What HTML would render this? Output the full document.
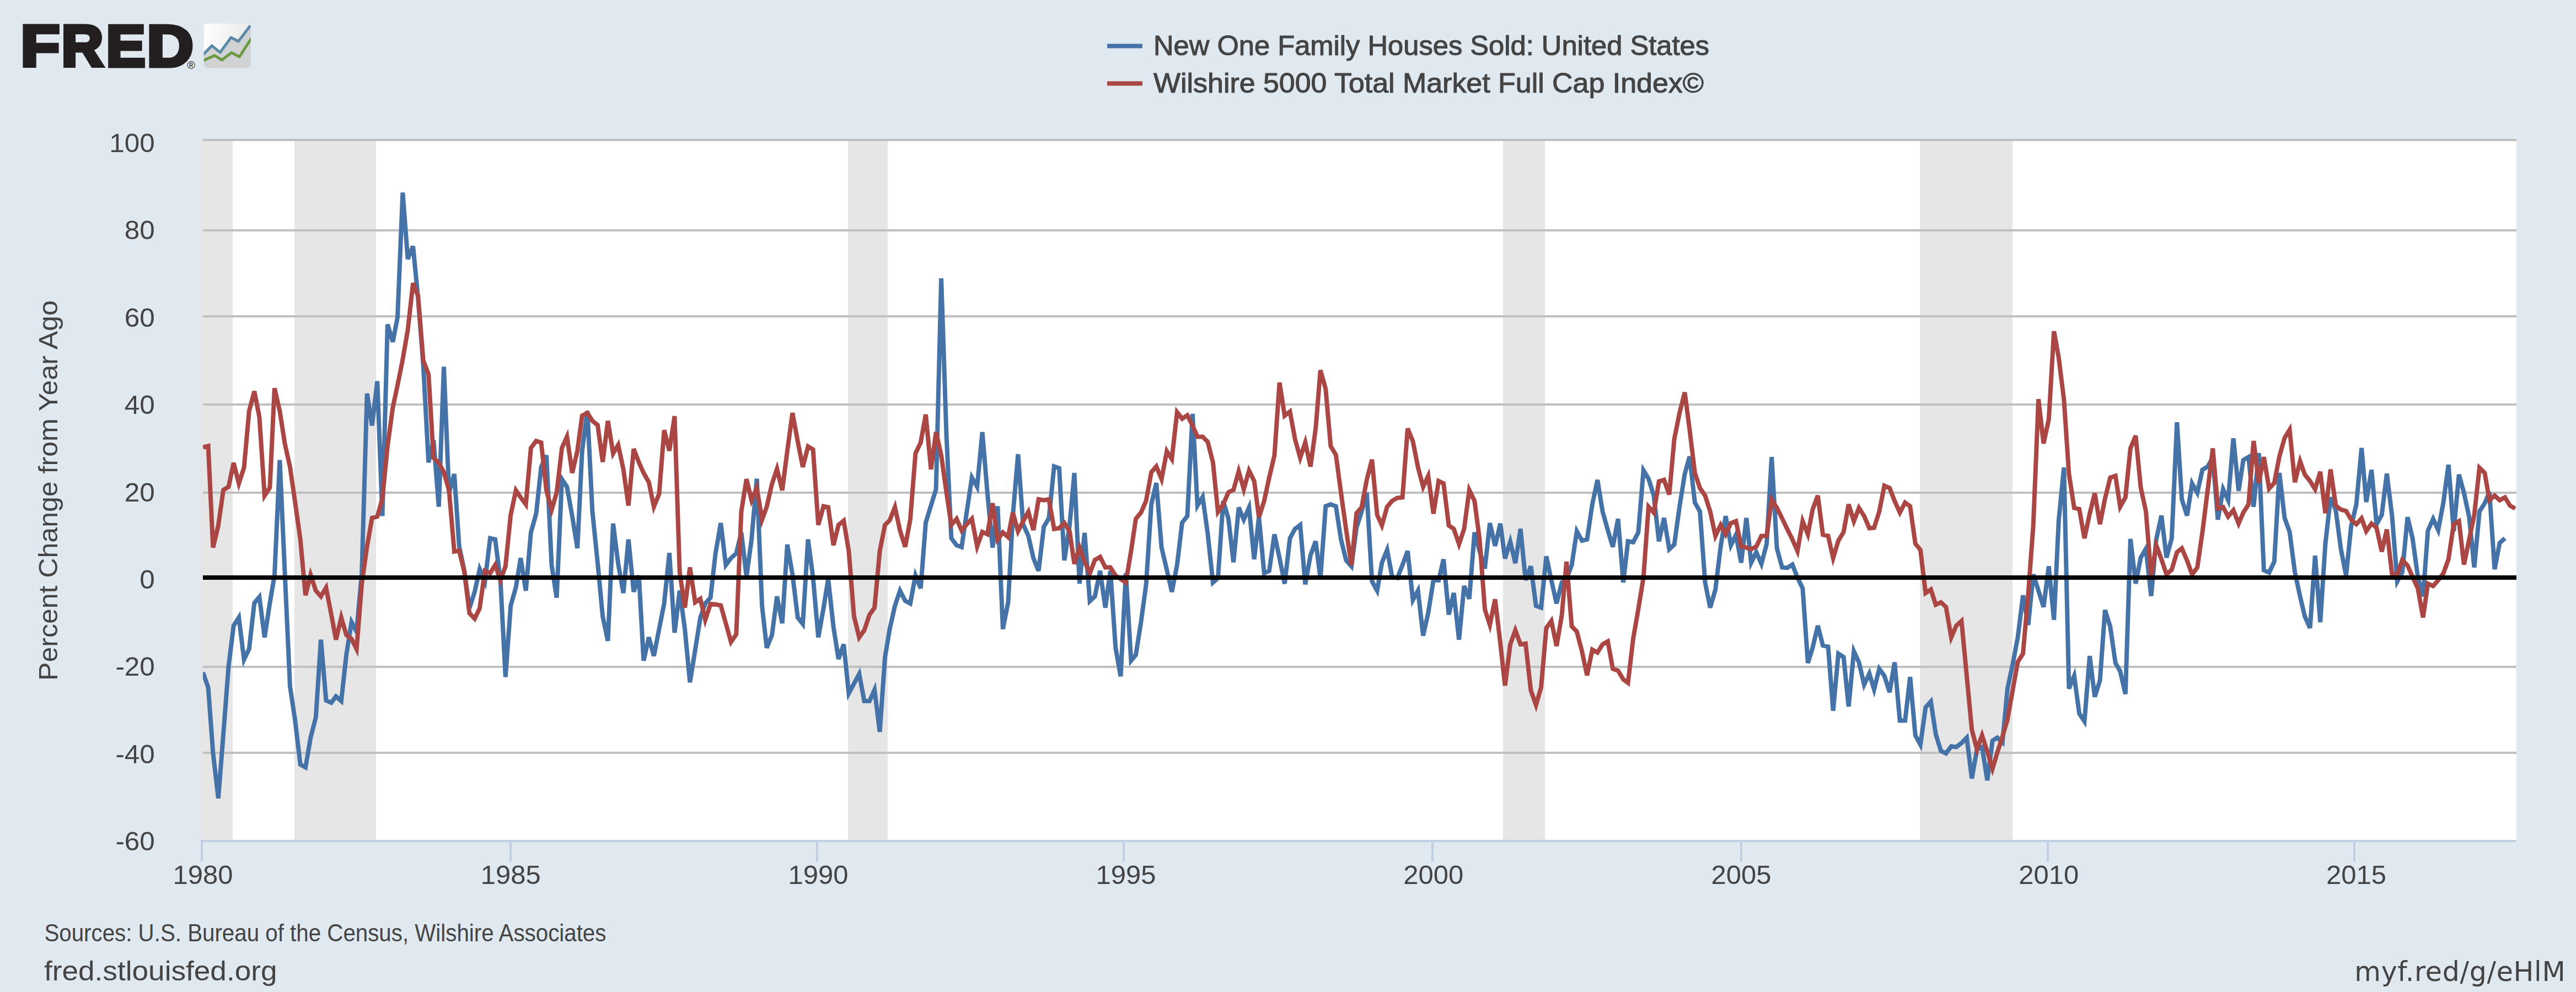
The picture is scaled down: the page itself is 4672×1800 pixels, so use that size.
<!DOCTYPE html>
<html><head><meta charset="utf-8"><title>FRED Graph</title>
<style>
html,body{margin:0;padding:0;background:#e1e9f0;}
svg{display:block}
text{font-family:"Liberation Sans",sans-serif;fill:#444444}
.dj{font-family:"DejaVu Sans","Liberation Sans",sans-serif}
</style></head>
<body>
<svg width="4672" height="1800" viewBox="0 0 4672 1800">
<rect x="0" y="0" width="4672" height="1800" fill="#e1e9f0"/>
<rect x="366" y="254" width="4198" height="1272" fill="#ffffff"/>
<rect x="366.0" y="254" width="56.0" height="1272" fill="#e6e6e6"/>
<rect x="534.0" y="254" width="148.0" height="1272" fill="#e6e6e6"/>
<rect x="1538.0" y="254" width="72.0" height="1272" fill="#e6e6e6"/>
<rect x="2726.0" y="254" width="76.0" height="1272" fill="#e6e6e6"/>
<rect x="3482.0" y="254" width="168.0" height="1272" fill="#e6e6e6"/>
<rect x="368" y="252" width="4196" height="4" fill="#c0c0c0"/>
<rect x="368" y="416" width="4196" height="4" fill="#c0c0c0"/>
<rect x="368" y="572" width="4196" height="4" fill="#c0c0c0"/>
<rect x="368" y="732" width="4196" height="4" fill="#c0c0c0"/>
<rect x="368" y="892" width="4196" height="4" fill="#c0c0c0"/>
<rect x="368" y="1208" width="4196" height="4" fill="#c0c0c0"/>
<rect x="368" y="1364" width="4196" height="4" fill="#c0c0c0"/>
<svg x="368" y="254" width="4196" height="1272" viewBox="368 254 4196 1272" overflow="hidden">
<path d="M368.1 1220.0 L377.6 1247.5 L386.4 1366.1 L395.9 1448.6 L405.1 1332.2 L414.5 1209.4 L423.7 1135.3 L433.2 1120.5 L442.6 1196.7 L451.8 1177.6 L461.3 1094.2 L470.4 1083.2 L479.9 1156.5 L489.4 1094.2 L497.9 1044.2 L507.4 834.8 L516.6 1040.0 L526.0 1245.4 L535.2 1306.8 L544.7 1387.2 L554.1 1392.3 L563.3 1338.5 L572.8 1301.7 L582.0 1160.7 L591.4 1270.8 L600.9 1275.0 L609.4 1263.6 L618.9 1272.1 L628.1 1188.2 L637.6 1128.9 L646.7 1145.9 L656.2 1040.0 L665.7 714.1 L674.8 772.1 L684.3 691.7 L693.5 936.4 L702.9 588.6 L712.4 620.4 L721.0 575.9 L730.4 349.5 L739.6 470.1 L749.1 446.8 L758.2 540.8 L767.7 662.7 L777.2 839.0 L786.3 798.8 L795.8 919.5 L805.0 665.4 L814.4 894.1 L823.9 860.2 L832.8 991.5 L842.2 1035.9 L851.4 1103.5 L860.9 1073.9 L870.0 1032.6 L879.5 1054.8 L889.0 976.7 L898.1 978.8 L907.6 1052.7 L916.8 1228.4 L926.2 1099.3 L935.7 1065.4 L944.3 1012.6 L953.7 1071.8 L962.9 966.1 L972.4 932.2 L981.5 847.5 L991.0 826.3 L1000.5 1025.3 L1009.6 1084.5 L1019.1 869.4 L1028.3 883.5 L1037.8 936.4 L1047.2 994.9 L1055.8 817.9 L1065.3 745.9 L1074.4 928.0 L1083.9 1021.1 L1093.1 1118.3 L1102.5 1162.8 L1112.0 950.0 L1121.2 1023.2 L1130.6 1076.0 L1139.8 978.8 L1149.3 1073.9 L1158.7 1044.2 L1167.3 1198.8 L1176.8 1156.5 L1185.9 1190.3 L1195.4 1141.6 L1204.6 1095.0 L1214.0 1003.3 L1223.5 1148.0 L1232.7 1071.8 L1242.1 1141.6 L1251.3 1238.2 L1260.8 1179.7 L1270.2 1120.5 L1279.1 1095.0 L1288.6 1084.5 L1297.7 1004.2 L1307.2 949.1 L1316.4 1025.3 L1325.8 1012.6 L1335.3 1004.2 L1344.5 966.1 L1353.9 1046.0 L1363.1 978.8 L1372.6 868.7 L1382.1 1099.3 L1390.6 1175.5 L1400.1 1152.2 L1409.2 1082.3 L1418.7 1131.0 L1427.9 988.1 L1437.3 1042.3 L1446.8 1120.5 L1456.0 1132.3 L1465.5 978.8 L1474.6 1048.0 L1484.1 1156.5 L1493.6 1103.5 L1502.1 1050.6 L1511.6 1137.4 L1520.8 1195.8 L1530.2 1169.2 L1539.4 1258.1 L1548.9 1240.3 L1558.3 1222.9 L1567.5 1272.1 L1577.0 1272.1 L1586.1 1251.7 L1595.6 1328.0 L1605.1 1192.4 L1613.6 1141.6 L1623.1 1099.3 L1632.3 1071.8 L1641.7 1090.0 L1650.9 1095.0 L1660.4 1044.2 L1669.8 1067.5 L1679.0 948.3 L1688.5 917.4 L1697.6 887.7 L1707.1 505.1 L1716.6 791.8 L1725.4 976.7 L1734.9 989.4 L1744.1 992.7 L1753.5 928.0 L1762.7 866.6 L1772.2 883.5 L1781.6 784.0 L1790.8 894.1 L1800.3 993.6 L1809.4 918.6 L1818.9 1141.6 L1828.4 1092.9 L1836.9 936.4 L1846.4 824.2 L1855.6 951.2 L1865.1 972.4 L1874.2 1012.6 L1883.7 1035.9 L1893.2 955.5 L1902.3 940.7 L1911.8 846.2 L1921.0 849.6 L1930.4 1016.9 L1939.9 953.4 L1948.5 858.1 L1957.9 1059.1 L1967.1 966.9 L1976.6 1090.8 L1985.7 1082.3 L1995.2 1035.9 L2004.7 1102.7 L2013.8 1035.9 L2023.3 1175.5 L2032.5 1227.2 L2041.9 1040.2 L2051.4 1198.8 L2060.0 1188.2 L2069.4 1128.9 L2078.6 1061.2 L2088.1 915.2 L2097.2 876.3 L2106.7 993.6 L2116.2 1033.8 L2125.3 1073.9 L2134.8 1025.3 L2144.0 948.3 L2153.4 936.4 L2162.9 750.9 L2171.8 917.4 L2181.2 901.7 L2190.4 968.2 L2199.9 1056.9 L2209.0 1048.6 L2218.5 908.9 L2228.0 941.5 L2237.1 1020.3 L2246.6 920.9 L2255.8 942.8 L2265.3 920.9 L2274.7 1014.8 L2283.3 938.5 L2292.8 1040.2 L2301.9 1035.9 L2311.4 969.5 L2320.6 1012.6 L2330.0 1059.1 L2339.5 976.7 L2348.7 959.7 L2358.1 952.5 L2367.3 1060.3 L2376.8 1007.6 L2386.2 982.2 L2394.8 1049.3 L2404.3 918.6 L2413.4 915.2 L2422.9 918.6 L2432.1 978.8 L2441.5 1016.9 L2451.0 1027.5 L2460.2 957.6 L2469.6 928.0 L2478.8 894.1 L2488.3 1054.8 L2497.7 1071.8 L2506.3 1021.1 L2515.8 997.8 L2524.9 1046.5 L2534.4 1048.6 L2543.6 1025.3 L2553.0 999.9 L2562.5 1088.7 L2571.7 1071.8 L2581.1 1153.5 L2590.3 1112.0 L2599.8 1052.7 L2609.2 1052.9 L2618.1 1014.8 L2627.6 1115.4 L2636.7 1076.0 L2646.2 1160.7 L2655.4 1063.3 L2664.8 1086.6 L2674.3 966.1 L2683.5 999.9 L2693.0 1031.7 L2702.1 949.1 L2711.6 990.6 L2721.1 950.0 L2729.6 1013.5 L2739.1 983.0 L2748.3 1022.0 L2757.7 959.7 L2766.9 1052.7 L2776.4 1027.5 L2785.8 1099.3 L2795.0 1102.7 L2804.5 1009.3 L2813.6 1052.7 L2823.1 1095.0 L2832.6 1056.9 L2841.1 1050.6 L2850.6 1025.3 L2859.8 963.9 L2869.2 980.9 L2878.4 978.8 L2887.9 915.2 L2897.3 870.8 L2906.5 928.0 L2916.0 961.8 L2925.1 992.3 L2934.6 941.5 L2944.1 1056.9 L2952.6 982.2 L2962.1 983.8 L2971.3 966.1 L2980.7 853.6 L2989.9 868.7 L2999.4 899.2 L3008.8 982.2 L3018.0 939.8 L3027.5 996.6 L3036.6 988.1 L3046.1 919.5 L3055.6 860.2 L3064.4 828.4 L3073.9 911.9 L3083.1 928.0 L3092.5 1056.9 L3101.7 1102.7 L3111.2 1069.6 L3120.7 991.5 L3129.8 936.4 L3139.3 989.4 L3148.5 970.3 L3157.9 1021.1 L3167.4 939.8 L3176.0 1021.1 L3185.4 1002.1 L3194.6 1023.2 L3204.1 987.2 L3213.2 829.3 L3222.7 994.9 L3232.2 1029.6 L3241.3 1030.4 L3250.8 1024.5 L3260.0 1048.0 L3269.4 1067.5 L3278.9 1203.0 L3287.5 1175.5 L3296.9 1135.3 L3306.1 1171.3 L3315.6 1173.4 L3324.7 1289.8 L3334.2 1186.1 L3343.7 1192.4 L3352.8 1282.2 L3362.3 1181.9 L3371.5 1201.8 L3380.9 1242.4 L3390.4 1222.1 L3399.0 1250.9 L3408.4 1213.6 L3417.6 1226.3 L3427.1 1256.0 L3436.2 1201.8 L3445.7 1307.6 L3455.2 1307.6 L3464.3 1228.4 L3473.8 1334.3 L3483.0 1351.2 L3492.4 1283.5 L3501.9 1272.9 L3510.8 1332.2 L3520.2 1362.7 L3529.4 1366.9 L3538.9 1354.2 L3548.0 1355.5 L3557.5 1348.3 L3567.0 1338.5 L3576.2 1412.6 L3585.6 1359.7 L3594.8 1355.5 L3604.3 1416.0 L3613.7 1344.0 L3622.3 1338.5 L3631.8 1347.0 L3640.9 1249.6 L3650.4 1205.1 L3659.6 1156.5 L3669.0 1080.2 L3678.5 1134.0 L3687.7 1042.3 L3697.1 1071.8 L3706.3 1101.4 L3715.8 1027.5 L3725.2 1124.7 L3733.8 944.9 L3743.3 848.3 L3752.4 1249.6 L3761.9 1226.3 L3771.1 1294.9 L3780.5 1308.9 L3790.0 1190.3 L3799.2 1264.4 L3808.6 1234.8 L3817.8 1106.9 L3827.3 1137.4 L3836.7 1203.0 L3845.3 1217.9 L3854.8 1259.4 L3863.9 977.9 L3873.4 1059.1 L3882.6 1011.8 L3892.0 995.7 L3901.5 1081.5 L3910.7 978.8 L3920.1 935.6 L3929.3 1011.8 L3938.8 976.7 L3948.3 766.2 L3957.1 905.9 L3966.6 935.6 L3975.7 877.1 L3985.2 894.1 L3994.4 852.6 L4003.9 846.6 L4013.3 830.6 L4022.5 942.8 L4032.0 887.7 L4041.1 907.6 L4050.6 795.4 L4060.1 890.7 L4068.6 834.8 L4078.1 829.3 L4087.3 919.5 L4096.7 822.1 L4105.9 1034.7 L4115.4 1038.9 L4124.8 1019.0 L4134.0 858.1 L4143.5 939.8 L4152.6 965.2 L4162.1 1038.1 L4171.6 1082.3 L4180.1 1118.3 L4189.6 1139.5 L4198.8 1008.4 L4208.2 1128.9 L4217.4 987.2 L4226.9 902.5 L4236.3 925.8 L4245.5 995.7 L4255.0 1044.4 L4264.1 955.5 L4273.6 915.2 L4283.1 812.8 L4291.6 911.0 L4301.1 852.6 L4310.3 951.2 L4319.7 934.3 L4328.9 859.4 L4338.4 936.4 L4347.8 1055.0 L4357.0 1038.1 L4366.5 938.5 L4375.6 976.7 L4385.1 1046.5 L4394.6 1082.3 L4403.4 962.7 L4412.9 941.5 L4422.1 961.8 L4431.6 911.0 L4440.7 843.3 L4450.2 963.9 L4459.7 861.0 L4468.8 894.1 L4478.3 938.5 L4487.5 1029.6 L4496.9 928.0 L4506.4 913.1 L4515.0 893.2 L4524.4 1033.0 L4533.6 985.1 L4543.1 976.7" fill="none" stroke="#4572a7" stroke-width="8" stroke-linejoin="miter" stroke-linecap="butt"/>
<path d="M368.1 811.5 L377.6 809.2 L386.4 993.6 L395.9 953.4 L405.1 889.0 L414.5 883.5 L423.7 839.9 L433.2 877.3 L442.6 848.3 L451.8 745.9 L461.3 709.9 L470.4 756.5 L479.9 899.5 L489.4 884.8 L497.9 704.4 L507.4 745.9 L516.6 805.1 L526.0 847.5 L535.2 911.0 L544.7 978.8 L554.1 1080.2 L563.3 1042.9 L572.8 1071.8 L582.0 1082.3 L591.4 1066.3 L600.9 1115.4 L609.4 1160.7 L618.9 1120.5 L628.1 1152.2 L637.6 1159.4 L646.7 1177.6 L656.2 1059.2 L665.7 991.5 L674.8 939.8 L684.3 937.3 L693.5 904.7 L702.9 809.4 L712.4 739.5 L721.0 699.1 L730.4 652.1 L739.6 598.6 L749.1 513.8 L758.2 536.8 L767.7 654.2 L777.2 679.0 L786.3 830.6 L795.8 839.9 L805.0 856.8 L814.4 889.8 L823.9 1000.8 L832.8 999.1 L842.2 1038.1 L851.4 1112.8 L860.9 1122.6 L870.0 1103.5 L879.5 1035.9 L889.0 1040.2 L898.1 1025.3 L907.6 1052.9 L916.8 1027.5 L926.2 934.3 L935.7 889.8 L944.3 902.5 L953.7 915.2 L962.9 812.8 L972.4 800.1 L981.5 803.0 L991.0 889.8 L1000.5 924.6 L1009.6 894.1 L1019.1 812.8 L1028.3 792.4 L1037.8 858.1 L1047.2 817.9 L1055.8 754.3 L1065.3 749.3 L1074.4 763.7 L1083.9 771.3 L1093.1 838.2 L1102.5 763.7 L1112.0 822.9 L1121.2 807.3 L1130.6 851.7 L1139.8 917.4 L1149.3 814.5 L1158.7 839.0 L1167.3 858.1 L1176.8 875.0 L1185.9 919.5 L1195.4 896.2 L1204.6 780.6 L1214.0 817.9 L1223.5 755.2 L1232.7 1038.1 L1242.1 1102.7 L1251.3 1029.6 L1260.8 1092.9 L1270.2 1086.6 L1279.1 1124.7 L1288.6 1095.9 L1297.7 1096.7 L1307.2 1098.4 L1316.4 1131.0 L1325.8 1164.9 L1335.3 1150.9 L1344.5 928.0 L1353.9 869.5 L1363.1 907.6 L1372.6 885.3 L1382.1 942.8 L1390.6 919.5 L1400.1 878.0 L1409.2 850.9 L1418.7 889.8 L1427.9 817.9 L1437.3 749.3 L1446.8 800.9 L1456.0 847.5 L1465.5 810.2 L1474.6 815.7 L1484.1 952.5 L1493.6 918.6 L1502.1 920.3 L1511.6 989.4 L1520.8 952.5 L1530.2 944.9 L1539.4 999.9 L1548.9 1118.3 L1558.3 1156.5 L1567.5 1143.7 L1577.0 1115.4 L1586.1 1102.7 L1595.6 999.9 L1605.1 952.5 L1613.6 944.0 L1623.1 920.1 L1632.3 962.7 L1641.7 992.3 L1650.9 942.8 L1660.4 822.9 L1669.8 803.0 L1679.0 752.2 L1688.5 851.7 L1697.6 784.0 L1707.1 826.3 L1716.6 894.1 L1725.4 952.5 L1734.9 941.5 L1744.1 962.7 L1753.5 951.2 L1762.7 941.5 L1772.2 991.5 L1781.6 965.2 L1790.8 969.5 L1800.3 913.1 L1809.4 978.8 L1818.9 966.1 L1828.4 974.5 L1836.9 930.1 L1846.4 963.9 L1855.6 945.7 L1865.1 928.8 L1874.2 961.8 L1883.7 905.9 L1893.2 907.6 L1902.3 905.9 L1911.8 959.7 L1921.0 958.4 L1930.4 949.1 L1939.9 963.9 L1948.5 1023.2 L1957.9 993.6 L1967.1 1019.0 L1976.6 1040.2 L1985.7 1016.0 L1995.2 1010.5 L2004.7 1029.6 L2013.8 1029.6 L2023.3 1044.4 L2032.5 1050.8 L2041.9 1056.9 L2051.4 999.9 L2060.0 941.5 L2069.4 930.1 L2078.6 908.9 L2088.1 856.8 L2097.2 846.2 L2106.7 869.4 L2116.2 818.7 L2125.3 833.0 L2134.8 748.0 L2144.0 759.8 L2153.4 753.5 L2162.9 772.1 L2171.8 792.4 L2181.2 792.4 L2190.4 801.8 L2199.9 839.0 L2209.0 928.8 L2218.5 915.2 L2228.0 893.2 L2237.1 889.0 L2246.6 855.2 L2255.8 887.7 L2265.3 853.8 L2274.7 872.9 L2283.3 938.5 L2292.8 908.9 L2301.9 866.6 L2311.4 826.3 L2320.6 694.2 L2330.0 754.3 L2339.5 746.7 L2348.7 796.7 L2358.1 830.6 L2367.3 802.9 L2376.8 846.6 L2386.2 777.6 L2394.8 671.8 L2404.3 705.6 L2413.4 809.4 L2422.9 825.5 L2432.1 894.1 L2441.5 961.8 L2451.0 1025.3 L2460.2 931.3 L2469.6 920.3 L2478.8 870.8 L2488.3 833.9 L2497.7 934.3 L2506.3 953.4 L2515.8 919.5 L2524.9 908.9 L2534.4 903.4 L2543.6 902.5 L2553.0 777.6 L2562.5 800.9 L2571.7 847.5 L2581.1 883.5 L2590.3 863.6 L2599.8 932.2 L2609.2 872.9 L2618.1 877.1 L2627.6 953.4 L2636.7 959.7 L2646.2 987.2 L2655.4 959.7 L2664.8 889.2 L2674.3 908.9 L2683.5 978.8 L2693.0 1105.6 L2702.1 1134.0 L2711.6 1087.4 L2721.1 1167.0 L2729.6 1244.1 L2739.1 1169.2 L2748.3 1143.7 L2757.7 1169.2 L2766.9 1167.9 L2776.4 1252.6 L2785.8 1279.3 L2795.0 1247.5 L2804.5 1139.5 L2813.6 1126.8 L2823.1 1172.1 L2832.6 1116.2 L2841.1 1019.0 L2850.6 1136.5 L2859.8 1145.9 L2869.2 1181.9 L2878.4 1225.5 L2887.9 1178.9 L2897.3 1184.0 L2906.5 1169.2 L2916.0 1163.7 L2925.1 1213.6 L2934.6 1217.0 L2944.1 1232.7 L2952.6 1239.0 L2962.1 1158.6 L2971.3 1105.6 L2980.7 1048.0 L2989.9 919.5 L2999.4 930.1 L3008.8 873.7 L3018.0 870.8 L3027.5 897.5 L3036.6 796.7 L3046.1 749.3 L3055.6 712.0 L3064.4 779.7 L3073.9 858.1 L3083.1 885.6 L3092.5 899.2 L3101.7 928.0 L3111.2 972.4 L3120.7 952.5 L3129.8 969.5 L3139.3 949.1 L3148.5 945.7 L3157.9 991.5 L3167.4 993.6 L3176.0 996.6 L3185.4 991.5 L3194.6 972.4 L3204.1 972.4 L3213.2 906.8 L3222.7 921.6 L3232.2 940.7 L3241.3 959.7 L3250.8 978.8 L3260.0 999.9 L3269.4 945.7 L3278.9 969.5 L3287.5 924.6 L3296.9 899.2 L3306.1 970.3 L3315.6 972.4 L3324.7 1012.6 L3334.2 980.9 L3343.7 965.2 L3352.8 915.2 L3362.3 945.7 L3371.5 921.6 L3380.9 936.4 L3390.4 958.4 L3399.0 957.6 L3408.4 928.0 L3417.6 881.4 L3427.1 885.6 L3436.2 908.9 L3445.7 930.1 L3455.2 911.9 L3464.3 918.6 L3473.8 986.4 L3483.0 997.8 L3492.4 1076.0 L3501.9 1069.6 L3510.8 1097.2 L3520.2 1092.9 L3529.4 1101.4 L3538.9 1156.5 L3548.0 1135.3 L3557.5 1126.8 L3567.0 1226.3 L3576.2 1323.7 L3585.6 1359.7 L3594.8 1334.3 L3604.3 1363.9 L3613.7 1394.9 L3622.3 1366.1 L3631.8 1336.4 L3640.9 1305.9 L3650.4 1251.7 L3659.6 1200.9 L3669.0 1186.1 L3678.5 1078.1 L3687.7 953.4 L3697.1 724.2 L3706.3 804.7 L3715.8 761.1 L3725.2 601.1 L3733.8 648.9 L3743.3 725.1 L3752.4 860.2 L3761.9 921.6 L3771.1 923.7 L3780.5 976.7 L3790.0 932.2 L3799.2 894.9 L3808.6 951.2 L3817.8 904.7 L3827.3 866.6 L3836.7 863.6 L3845.3 919.5 L3854.8 902.5 L3863.9 813.6 L3873.4 790.7 L3882.6 884.8 L3892.0 928.0 L3901.5 1046.0 L3910.7 989.4 L3920.1 1014.8 L3929.3 1042.3 L3938.8 1033.8 L3948.3 1002.1 L3957.1 994.9 L3966.6 1016.9 L3975.7 1042.3 L3985.2 1029.6 L3994.4 966.1 L4003.9 889.8 L4013.3 813.6 L4022.5 922.9 L4032.0 920.3 L4041.1 937.3 L4050.6 925.8 L4060.1 950.0 L4068.6 930.1 L4078.1 915.2 L4087.3 800.1 L4096.7 876.3 L4105.9 829.3 L4115.4 886.5 L4124.8 876.3 L4134.0 828.4 L4143.5 794.6 L4152.6 779.7 L4162.1 875.0 L4171.6 836.9 L4180.1 861.0 L4189.6 872.9 L4198.8 887.7 L4208.2 856.0 L4217.4 931.3 L4226.9 851.7 L4236.3 917.4 L4245.5 924.6 L4255.0 927.1 L4264.1 942.8 L4273.6 951.2 L4283.1 940.7 L4291.6 963.9 L4301.1 950.0 L4310.3 957.6 L4319.7 1000.8 L4328.9 960.6 L4338.4 1042.3 L4347.8 1042.3 L4357.0 1016.0 L4366.5 1026.2 L4375.6 1046.5 L4385.1 1067.5 L4394.6 1120.5 L4403.4 1059.1 L4412.9 1063.3 L4422.1 1052.7 L4431.6 1040.2 L4440.7 1014.8 L4450.2 951.2 L4459.7 945.7 L4468.8 1024.5 L4478.3 978.8 L4487.5 934.3 L4496.9 848.8 L4506.4 858.1 L4515.0 907.6 L4524.4 899.2 L4533.6 907.6 L4543.1 902.5 L4552.2 917.4 L4561.7 922.9" fill="none" stroke="#aa4643" stroke-width="8" stroke-linejoin="miter" stroke-linecap="butt"/>
<rect x="368" y="1044" width="4196" height="8" fill="#000000"/>
</svg>
<rect x="364" y="1524" width="4200" height="4" fill="#c0d0e0"/>
<rect x="364" y="1524" width="4" height="40" fill="#c0d0e0"/>
<text x="313.6" y="1604" font-size="48" textLength="109" lengthAdjust="spacingAndGlyphs">1980</text>
<rect x="924" y="1524" width="4" height="40" fill="#c0d0e0"/>
<text x="871.7" y="1604" font-size="48" textLength="109" lengthAdjust="spacingAndGlyphs">1985</text>
<rect x="1480" y="1524" width="4" height="40" fill="#c0d0e0"/>
<text x="1429.6" y="1604" font-size="48" textLength="109" lengthAdjust="spacingAndGlyphs">1990</text>
<rect x="2036" y="1524" width="4" height="40" fill="#c0d0e0"/>
<text x="1987.4" y="1604" font-size="48" textLength="109" lengthAdjust="spacingAndGlyphs">1995</text>
<rect x="2596" y="1524" width="4" height="40" fill="#c0d0e0"/>
<text x="2545.3" y="1604" font-size="48" textLength="109" lengthAdjust="spacingAndGlyphs">2000</text>
<rect x="3156" y="1524" width="4" height="40" fill="#c0d0e0"/>
<text x="3103.4" y="1604" font-size="48" textLength="109" lengthAdjust="spacingAndGlyphs">2005</text>
<rect x="3712" y="1524" width="4" height="40" fill="#c0d0e0"/>
<text x="3661.3" y="1604" font-size="48" textLength="109" lengthAdjust="spacingAndGlyphs">2010</text>
<rect x="4268" y="1524" width="4" height="40" fill="#c0d0e0"/>
<text x="4219.1" y="1604" font-size="48" textLength="109" lengthAdjust="spacingAndGlyphs">2015</text>
<text x="198.3" y="275.8" font-size="48" textLength="82.5" lengthAdjust="spacingAndGlyphs">100</text>
<text x="225.8" y="434.2" font-size="48" textLength="55.0" lengthAdjust="spacingAndGlyphs">80</text>
<text x="225.8" y="592.7" font-size="48" textLength="55.0" lengthAdjust="spacingAndGlyphs">60</text>
<text x="225.8" y="751.1" font-size="48" textLength="55.0" lengthAdjust="spacingAndGlyphs">40</text>
<text x="225.8" y="909.6" font-size="48" textLength="55.0" lengthAdjust="spacingAndGlyphs">20</text>
<text x="253.3" y="1068.0" font-size="48" textLength="27.5" lengthAdjust="spacingAndGlyphs">0</text>
<text x="209.4" y="1226.4" font-size="48" textLength="71.4" lengthAdjust="spacingAndGlyphs">-20</text>
<text x="209.4" y="1384.9" font-size="48" textLength="71.4" lengthAdjust="spacingAndGlyphs">-40</text>
<text x="209.4" y="1543.3" font-size="48" textLength="71.4" lengthAdjust="spacingAndGlyphs">-60</text>
<text transform="translate(104.2,890) rotate(-90)" font-size="48" text-anchor="middle" textLength="690" lengthAdjust="spacingAndGlyphs">Percent Change from Year Ago</text>
<rect x="2008" y="79.5" width="64" height="8" fill="#4572a7"/>
<rect x="2008" y="147.5" width="64" height="8" fill="#aa4643"/>
<text x="2092" y="99.7" font-size="50.5" stroke="#444444" stroke-width="1.1" textLength="1008" lengthAdjust="spacingAndGlyphs">New One Family Houses Sold: United States</text>
<text x="2092" y="167.7" font-size="50.5" stroke="#444444" stroke-width="1.1" textLength="998" lengthAdjust="spacingAndGlyphs">Wilshire 5000 Total Market Full Cap Index©</text>
<text x="80.4" y="1708" font-size="44" textLength="1019" lengthAdjust="spacingAndGlyphs">Sources: U.S. Bureau of the Census, Wilshire Associates</text>
<text x="80" y="1779" font-size="50" textLength="422.5" lengthAdjust="spacingAndGlyphs">fred.stlouisfed.org</text>
<text class="dj" x="4270.2" y="1779.8" font-size="49" textLength="382.5" lengthAdjust="spacing">myf.red/g/eHlM</text>
<text aria-label="FRED" y="119.6" font-size="105.8" font-weight="bold" stroke="#231f20" stroke-width="7" stroke-linejoin="miter" style="fill:#231f20"><tspan x="37.6" textLength="70.8" lengthAdjust="spacingAndGlyphs">F</tspan><tspan x="111.6" textLength="75.8" lengthAdjust="spacingAndGlyphs">R</tspan><tspan x="192.5" textLength="71.1" lengthAdjust="spacingAndGlyphs">E</tspan><tspan x="266.5" textLength="84" lengthAdjust="spacingAndGlyphs">D</tspan></text>
<text x="346.6" y="124.6" font-size="20" text-anchor="middle" style="fill:#231f20">®</text>
<defs><linearGradient id="lg" x1="0" y1="0" x2="1" y2="0.25"><stop offset="0" stop-color="#ffffff"/><stop offset="1" stop-color="#e8e9e9"/></linearGradient>
<clipPath id="lc"><rect x="369.7" y="42.7" width="85" height="80.5" rx="6.5" ry="6.5"/></clipPath></defs>
<g clip-path="url(#lc)">
<rect x="369.7" y="42.7" width="85" height="80.5" fill="url(#lg)"/>
<path d="M367 100.5 L384.2 82.9 L399.3 95.1 L418.9 68.1 L432.5 75 L452.8 48 L456 48 L456 124 L367 124 Z" fill="#d1d2d4"/>
<path d="M367 100.5 L384.2 82.9 L399.3 95.1 L418.9 68.1 L432.5 75 L452.8 48" fill="none" stroke="#5b89a7" stroke-width="5" stroke-linejoin="round" stroke-linecap="round"/>
<path d="M367 110.6 L389.3 100.7 L402.3 108.9 L420 95.6 L434.3 103 L456.5 68.5" fill="none" stroke="#6b9b41" stroke-width="5" stroke-linejoin="round" stroke-linecap="round"/>
</g>
</svg>
</body></html>
